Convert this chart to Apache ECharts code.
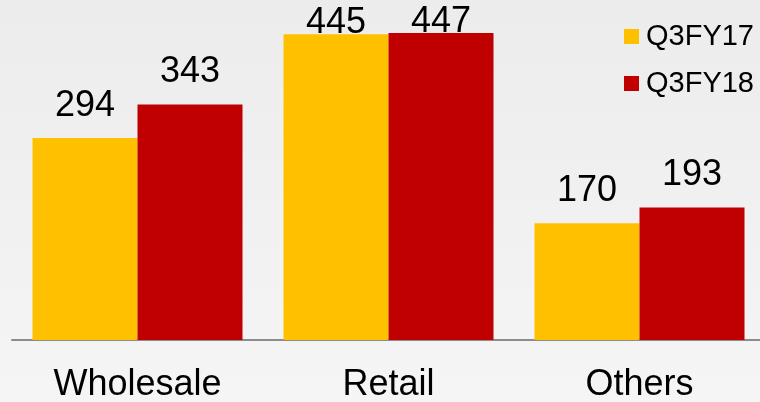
<!DOCTYPE html>
<html><head><meta charset="utf-8">
<script src="https://cdn.jsdelivr.net/npm/echarts@6/dist/echarts.min.js"></script>
<style>html,body{margin:0;padding:0;}#c{width:760px;height:402px;}</style>
</head><body><div id="c"></div>
<script>
const categories = ['Wholesale', 'Retail', 'Others'];
const seriesNames = ['Q3FY17', 'Q3FY18'];
const q3fy17 = [294, 445, 170];
const q3fy18 = [343, 447, 193];
const colors = ['#FFC000', '#C00000'];

const chart = echarts.init(document.getElementById('c'), null, {renderer: 'canvas'});
function mkData(vals) {
  return vals.map((v, i) => (categories[i] === 'Retail'
    ? {value: v, label: {distance: -7}}
    : {value: v}));
}
chart.setOption({
  animation: false,
  backgroundColor: {type: 'linear', x: 0, y: 0, x2: 0, y2: 1,
    colorStops: [{offset: 0, color: '#ececec'}, {offset: 1, color: '#f5f5f5'}]},
  textStyle: {fontFamily: 'Liberation Sans, Arial, sans-serif'},
  legend: {
    orient: 'vertical', right: 1, top: 17, itemWidth: 15, itemHeight: 15, itemGap: 18,
    icon: 'rect',
    textStyle: {fontSize: 29, color: '#000', padding: [0, 0, 0, 2]},
    data: seriesNames
  },
  grid: {left: 12, width: 753, top: 0, bottom: 62, outerBoundsMode: 'none', containLabel: false},
  xAxis: {
    type: 'category', data: categories,
    axisLine: {show: true, lineStyle: {color: '#8c8c8c', width: 2}},
    axisTick: {show: false},
    axisLabel: {fontSize: 36, color: '#000', margin: 27}
  },
  yAxis: {type: 'value', min: 0, max: 495, show: false, splitLine: {show: false}},
  series: [
    {name: seriesNames[0], type: 'bar', data: mkData(q3fy17), barWidth: 105, barGap: '0%',
     itemStyle: {color: colors[0]},
     label: {show: true, position: 'top', distance: 14, fontSize: 36, color: '#000'}},
    {name: seriesNames[1], type: 'bar', data: mkData(q3fy18), barWidth: 105, barGap: '0%',
     itemStyle: {color: colors[1]},
     label: {show: true, position: 'top', distance: 14, fontSize: 36, color: '#000'}}
  ]
});
</script></body></html>
